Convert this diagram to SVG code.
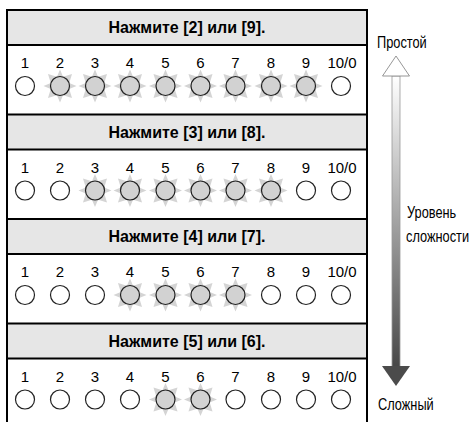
<svg xmlns="http://www.w3.org/2000/svg" xmlns:xlink="http://www.w3.org/1999/xlink" width="472" height="422" viewBox="0 0 472 422">
<style>
.hdr{fill:#e6e6e6}
.ln{stroke:#000;stroke-width:2;fill:none}
.ht{font-family:"Liberation Sans",Arial,sans-serif;font-weight:bold;font-size:16px;text-anchor:middle;fill:#000}
.num{font-family:"Liberation Sans",Arial,sans-serif;font-size:15px;text-anchor:middle;fill:#000}
.off{fill:#fff;stroke:#222;stroke-width:1.2}
.on{fill:#d2d2d2;stroke:#222;stroke-width:1.2}
.star{fill:#d4d4d4}
.lbl{font-family:"Liberation Sans",Arial,sans-serif;font-size:16px;fill:#000}
</style>
<defs>
<polygon id="star" class="star" points="16.5,0 9.24,3.06 12.02,12.02 3.06,9.24 0,16.5 -3.06,9.24 -12.02,12.02 -9.24,3.06 -16.5,0 -9.24,-3.06 -12.02,-12.02 -3.06,-9.24 0,-16.5 3.06,-9.24 12.02,-12.02 9.24,-3.06"/>
<linearGradient id="g" x1="0" y1="0" x2="0" y2="1">
<stop offset="0" stop-color="#ffffff"/>
<stop offset="1" stop-color="#474747"/>
</linearGradient>
</defs>
<rect x="0" y="0" width="472" height="422" fill="#fff"/>

<g id="section1">
<rect class="hdr" x="7" y="10" width="360" height="35"/>
<text class="ht" x="187" y="33">Нажмите [2] или [9].</text>
<line class="ln" x1="7" y1="45" x2="367" y2="45"/>
<g class="num">
<text x="25" y="68">1</text><text x="60" y="68">2</text><text x="95" y="68">3</text><text x="130" y="68">4</text><text x="165.5" y="68">5</text><text x="200.5" y="68">6</text><text x="235.5" y="68">7</text><text x="271" y="68">8</text><text x="306" y="68">9</text><text x="342" y="68">10/0</text>
</g>
<use xlink:href="#star" x="60" y="86"/><use xlink:href="#star" x="95" y="86"/><use xlink:href="#star" x="130" y="86"/><use xlink:href="#star" x="165.5" y="86"/><use xlink:href="#star" x="200.5" y="86"/><use xlink:href="#star" x="235.5" y="86"/><use xlink:href="#star" x="271" y="86"/><use xlink:href="#star" x="306" y="86"/>
<circle class="off" cx="25" cy="86" r="9.5"/>
<circle class="on" cx="60" cy="86" r="9.5"/><circle class="on" cx="95" cy="86" r="9.5"/><circle class="on" cx="130" cy="86" r="9.5"/><circle class="on" cx="165.5" cy="86" r="9.5"/><circle class="on" cx="200.5" cy="86" r="9.5"/><circle class="on" cx="235.5" cy="86" r="9.5"/><circle class="on" cx="271" cy="86" r="9.5"/><circle class="on" cx="306" cy="86" r="9.5"/>
<circle class="off" cx="341" cy="86" r="9.5"/>
</g>

<g id="section2" transform="translate(0,104.5)">
<rect class="hdr" x="7" y="10" width="360" height="35"/>
<line class="ln" x1="7" y1="10" x2="367" y2="10"/>
<text class="ht" x="187" y="33">Нажмите [3] или [8].</text>
<line class="ln" x1="7" y1="45" x2="367" y2="45"/>
<g class="num">
<text x="25" y="68">1</text><text x="60" y="68">2</text><text x="95" y="68">3</text><text x="130" y="68">4</text><text x="165.5" y="68">5</text><text x="200.5" y="68">6</text><text x="235.5" y="68">7</text><text x="271" y="68">8</text><text x="306" y="68">9</text><text x="342" y="68">10/0</text>
</g>
<use xlink:href="#star" x="95" y="86"/><use xlink:href="#star" x="130" y="86"/><use xlink:href="#star" x="165.5" y="86"/><use xlink:href="#star" x="200.5" y="86"/><use xlink:href="#star" x="235.5" y="86"/><use xlink:href="#star" x="271" y="86"/>
<circle class="off" cx="25" cy="86" r="9.5"/><circle class="off" cx="60" cy="86" r="9.5"/>
<circle class="on" cx="95" cy="86" r="9.5"/><circle class="on" cx="130" cy="86" r="9.5"/><circle class="on" cx="165.5" cy="86" r="9.5"/><circle class="on" cx="200.5" cy="86" r="9.5"/><circle class="on" cx="235.5" cy="86" r="9.5"/><circle class="on" cx="271" cy="86" r="9.5"/>
<circle class="off" cx="306" cy="86" r="9.5"/><circle class="off" cx="341" cy="86" r="9.5"/>
</g>

<g id="section3" transform="translate(0,209)">
<rect class="hdr" x="7" y="10" width="360" height="35"/>
<line class="ln" x1="7" y1="10" x2="367" y2="10"/>
<text class="ht" x="187" y="33">Нажмите [4] или [7].</text>
<line class="ln" x1="7" y1="45" x2="367" y2="45"/>
<g class="num">
<text x="25" y="68">1</text><text x="60" y="68">2</text><text x="95" y="68">3</text><text x="130" y="68">4</text><text x="165.5" y="68">5</text><text x="200.5" y="68">6</text><text x="235.5" y="68">7</text><text x="271" y="68">8</text><text x="306" y="68">9</text><text x="342" y="68">10/0</text>
</g>
<use xlink:href="#star" x="130" y="86"/><use xlink:href="#star" x="165.5" y="86"/><use xlink:href="#star" x="200.5" y="86"/><use xlink:href="#star" x="235.5" y="86"/>
<circle class="off" cx="25" cy="86" r="9.5"/><circle class="off" cx="60" cy="86" r="9.5"/><circle class="off" cx="95" cy="86" r="9.5"/>
<circle class="on" cx="130" cy="86" r="9.5"/><circle class="on" cx="165.5" cy="86" r="9.5"/><circle class="on" cx="200.5" cy="86" r="9.5"/><circle class="on" cx="235.5" cy="86" r="9.5"/>
<circle class="off" cx="271" cy="86" r="9.5"/><circle class="off" cx="306" cy="86" r="9.5"/><circle class="off" cx="341" cy="86" r="9.5"/>
</g>

<g id="section4" transform="translate(0,313.5)">
<rect class="hdr" x="7" y="10" width="360" height="35"/>
<line class="ln" x1="7" y1="10" x2="367" y2="10"/>
<text class="ht" x="187" y="33">Нажмите [5] или [6].</text>
<line class="ln" x1="7" y1="45" x2="367" y2="45"/>
<g class="num">
<text x="25" y="68">1</text><text x="60" y="68">2</text><text x="95" y="68">3</text><text x="130" y="68">4</text><text x="165.5" y="68">5</text><text x="200.5" y="68">6</text><text x="235.5" y="68">7</text><text x="271" y="68">8</text><text x="306" y="68">9</text><text x="342" y="68">10/0</text>
</g>
<use xlink:href="#star" x="165.5" y="86"/><use xlink:href="#star" x="200.5" y="86"/>
<circle class="off" cx="25" cy="86" r="9.5"/><circle class="off" cx="60" cy="86" r="9.5"/><circle class="off" cx="95" cy="86" r="9.5"/><circle class="off" cx="130" cy="86" r="9.5"/>
<circle class="on" cx="165.5" cy="86" r="9.5"/><circle class="on" cx="200.5" cy="86" r="9.5"/>
<circle class="off" cx="235.5" cy="86" r="9.5"/><circle class="off" cx="271" cy="86" r="9.5"/><circle class="off" cx="306" cy="86" r="9.5"/><circle class="off" cx="341" cy="86" r="9.5"/>
</g>

<path id="frame" class="ln" d="M7,422 V10 H367 V422"/>

<g id="connectors">
<rect x="392" y="76" width="8" height="291" fill="url(#g)" stroke="#9a9a9a" stroke-width="0.8"/>
<polygon points="396,56 409.5,76 382.5,76" fill="#fff" stroke="#8a8a8a" stroke-width="0.9"/>
<polygon points="382,366 410,366 396,386" fill="#4b4b4b"/>
</g>

<g id="labels">
<text class="lbl" transform="translate(377,48) scale(0.8,1)">Простой</text>
<text class="lbl" transform="translate(407,218) scale(0.8,1)">Уровень</text>
<text class="lbl" transform="translate(406,242) scale(0.8,1)">сложности</text>
<text class="lbl" transform="translate(378,410) scale(0.8,1)">Сложный</text>
</g>
</svg>
